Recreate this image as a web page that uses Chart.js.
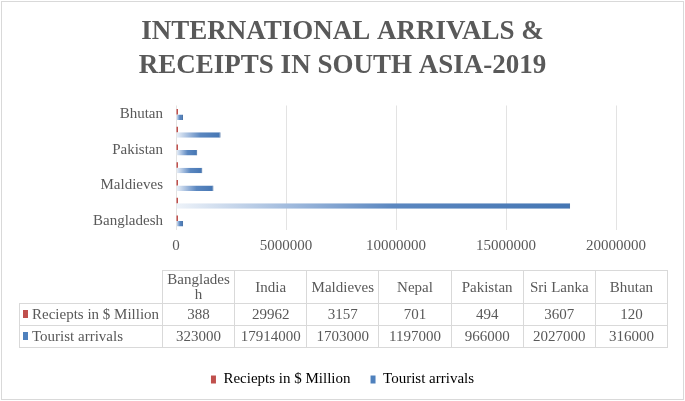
<!DOCTYPE html>
<html>
<head>
<meta charset="utf-8">
<script src="https://cdn.jsdelivr.net/npm/chart.js@4"></script>
<style>
  body { margin: 0; background: #fff; }
  #wrap { position: absolute; left: 1px; top: 1px; width: 681px; height: 397px; border: 1px solid #d9d9d9; }
  #chart { position: absolute; left: 0; top: 0; }
  #dataTable {
    position: absolute; left: 17px; top: 268px; width: 649px;
    border-collapse: collapse; table-layout: fixed;
    font-family: 'Liberation Serif', serif; font-size: 15px; color: #595959;
  }
  #dataTable td { border: 1px solid #d9d9d9; text-align: center; padding: 0 4px; height: 21px; line-height: 15px; word-break: break-all; }
  #dataTable tr.head td { height: 32px; }
  #dataTable td.empty { border: none; }
  #dataTable td.name { text-align: left; padding-left: 3px; white-space: nowrap; word-break: normal; }
  .key { display: inline-block; width: 5px; height: 8px; margin-right: 4px; vertical-align: 1px; }
</style>
</head>
<body>
<div id="wrap">
  <canvas id="chart" width="681" height="397"></canvas>
  <table id="dataTable"></table>
</div>
<script>
const countries = ['Bangladesh', 'India', 'Maldieves', 'Nepal', 'Pakistan', 'Sri Lanka', 'Bhutan'];
const receipts = [388, 29962, 3157, 701, 494, 3607, 120];
const arrivals = [323000, 17914000, 1703000, 1197000, 966000, 2027000, 316000];
const seriesNames = ['Reciepts in $ Million', 'Tourist arrivals'];
const seriesColors = ['#c0504d', '#4f81bd'];
const titleLines = ['INTERNATIONAL ARRIVALS &', 'RECEIPTS IN SOUTH ASIA-2019'];

const grey = '#595959';
const serif = "'Liberation Serif', serif";

// table under the chart
const table = document.getElementById('dataTable');
let html = '<colgroup><col style="width:143px">';
countries.forEach(() => { html += '<col>'; });
html += '</colgroup><tr class="head"><td class="empty"></td>';
countries.forEach((c) => { html += '<td>' + c + '</td>'; });
html += '</tr>';
[receipts, arrivals].forEach((row, i) => {
  html += '<tr><td class="name"><span class="key" style="background:' + seriesColors[i] + '"></span>' + seriesNames[i] + '</td>';
  row.forEach((v) => { html += '<td>' + v + '</td>'; });
  html += '</tr>';
});
table.innerHTML = html;

function blueFill(context) {
  const chart = context.chart;
  const x = chart.scales.x;
  if (!x || !chart.chartArea) return seriesColors[1];
  const x0 = x.getPixelForValue(0);
  const x1 = Math.max(x.getPixelForValue(context.raw), x0 + 1);
  const g = chart.ctx.createLinearGradient(x0, 0, x1, 0);
  g.addColorStop(0, '#eef3f9');
  g.addColorStop(0.3, '#9db8dc');
  g.addColorStop(0.55, '#5b87c0');
  g.addColorStop(1, '#4576b3');
  return g;
}

const ctx = document.getElementById('chart');
new Chart(ctx, {
  type: 'bar',
  data: {
    labels: countries,
    datasets: [
      {
        label: seriesNames[0],
        data: receipts,
        yAxisID: 'y',
        backgroundColor: seriesColors[0],
        minBarLength: 2,
        categoryPercentage: 0.62,
        barPercentage: 1.0,
      },
      {
        label: seriesNames[1],
        data: arrivals,
        yAxisID: 'y',
        backgroundColor: blueFill,
        borderColor: '#3a669e',
        borderWidth: { right: 1 },
        borderSkipped: false,
        categoryPercentage: 0.62,
        barPercentage: 1.0,
      },
    ],
  },
  options: {
    indexAxis: 'y',
    responsive: false,
    animation: false,
    layout: {
      padding: { left: 0, right: 0, top: 0, bottom: 2 },
    },
    scales: {
      x: {
        min: 0,
        max: 20000000,
        border: { display: false },
        grid: { color: '#e3e3e3', drawTicks: false },
        ticks: {
          stepSize: 5000000,
          padding: 7,
          color: grey,
          maxRotation: 0,
          font: { family: serif, size: 15 },
          callback: (v) => String(v),
        },
        afterFit: (scale) => { scale.height = 122; },
      },
      y: {
        reverse: true,
        border: { display: false },
        grid: { display: false, drawTicks: false },
        ticks: {
          padding: 13,
          color: grey,
          autoSkip: false,
          font: { family: serif, size: 15 },
          callback: (v, i) => (i % 2 === 0 ? countries[i] : ''),
        },
        afterFit: (scale) => { scale.width = 174; },
      },
      // empty box on the right so the plot stops short of the edge
      spacer: {
        type: 'category',
        axis: 'y',
        position: 'right',
        border: { display: false },
        grid: { display: false, drawTicks: false },
        ticks: { display: false },
        afterFit: (scale) => { scale.width = 67; },
      },
    },
    plugins: {
      title: {
        display: true,
        text: titleLines,
        color: grey,
        font: { family: serif, size: 27, weight: 'bold', lineHeight: 1.25 },
        padding: { top: 13, bottom: 23 },
      },
      legend: {
        position: 'bottom',
        labels: {
          color: grey,
          boxWidth: 5,
          boxHeight: 8,
          padding: 20,
          font: { family: serif, size: 15 },
          generateLabels: (chart) => seriesNames.map((n, i) => ({
            text: n,
            fillStyle: seriesColors[i],
            strokeStyle: seriesColors[i],
            lineWidth: 0,
            datasetIndex: i,
          })),
        },
      },
      tooltip: { enabled: false },
    },
  },
});
</script>
</body>
</html>
